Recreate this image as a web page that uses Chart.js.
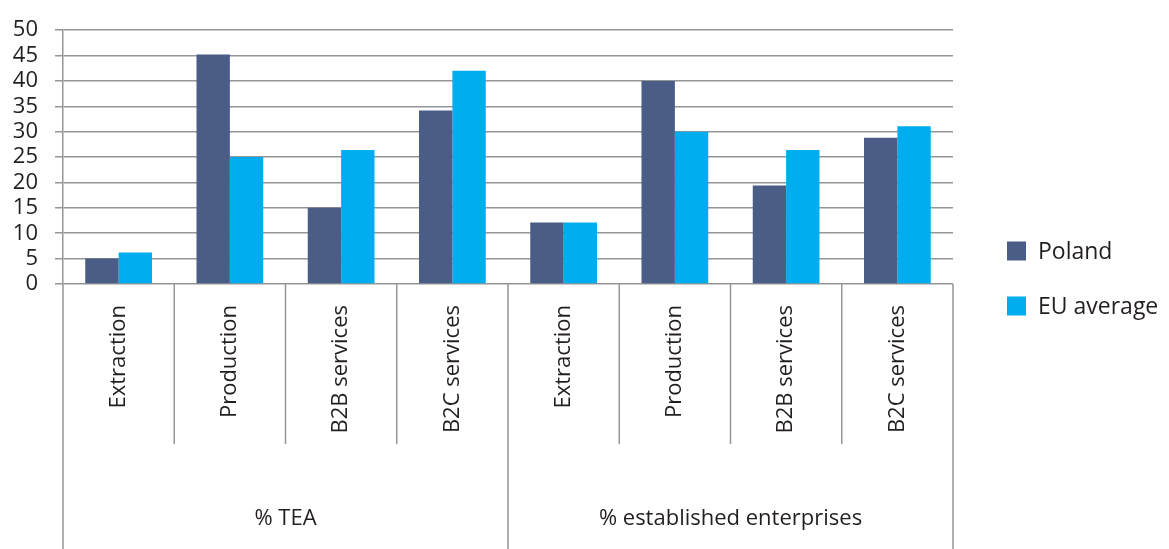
<!DOCTYPE html>
<html>
  <head>
    <script src="https://cdn.jsdelivr.net/npm/chart.js@4.4.1/dist/chart.umd.min.js"></script>
    <style>
      body { margin: 0; background: #fff; }
    </style>
  </head>
  <body>
    <canvas id="sectors" width="1169" height="549"></canvas>

    <script>
      var categories = ['Extraction', 'Production', 'B2B services', 'B2C services',
                        'Extraction', 'Production', 'B2B services', 'B2C services'];
      var groups = ['% TEA', '% established enterprises'];
      var groupSize = 4;
      var poland = [5.0, 45.2, 15.0, 34.2, 12.1, 40.0, 19.4, 28.8];
      var euAverage = [6.2, 25.0, 26.4, 42.0, 12.1, 30.0, 26.4, 31.1];
      var yMax = 50;
      var yStep = 5;

      var lineGrey = '#939598';
      var textDark = '#231f20';
      var font = "'Open Sans', sans-serif";

      // divider lines under the x axis plus the group captions
      var groupAxis = {
        id: 'groupAxis',
        afterDraw: function (chart) {
          var ctx = chart.ctx;
          var x = chart.scales.x;
          var area = chart.chartArea;
          var bottom = chart.height;
          ctx.save();
          ctx.strokeStyle = lineGrey;
          ctx.lineWidth = 1.5;

          function vline(px, y1, y2) {
            ctx.beginPath();
            ctx.moveTo(px, y1);
            ctx.lineTo(px, y2);
            ctx.stroke();
          }

          vline(area.left, area.bottom, bottom);
          vline(area.right, area.bottom, bottom);
          for (var i = 0; i < categories.length - 1; i++) {
            var px = (x.getPixelForValue(i) + x.getPixelForValue(i + 1)) / 2;
            if ((i + 1) % groupSize === 0) {
              vline(px, area.bottom, bottom);
            } else {
              vline(px, area.bottom, area.bottom + 160);
            }
          }

          ctx.fillStyle = textDark;
          ctx.font = '22px ' + font;
          ctx.textAlign = 'center';
          ctx.textBaseline = 'middle';
          groups.forEach(function (g, gi) {
            var first = gi * groupSize;
            var last = first + groupSize - 1;
            var cx = (x.getPixelForValue(first) + x.getPixelForValue(last)) / 2;
            ctx.fillText(g, cx, 519);
          });

          // legend on the right
          ctx.font = '23px ' + font;
          ctx.textAlign = 'left';
          chart.data.datasets.forEach(function (ds, di) {
            var cy = 251 + di * 55;
            ctx.fillStyle = ds.backgroundColor;
            ctx.fillRect(1007, cy - 9.5, 19, 19);
            ctx.fillStyle = textDark;
            ctx.fillText(ds.label, 1038, cy + 1);
          });
          ctx.restore();
        }
      };

      new Chart(document.getElementById('sectors').getContext('2d'), {
        type: 'bar',
        data: {
          labels: categories,
          datasets: [
            { label: 'Poland', data: poland, backgroundColor: '#4a5d87' },
            { label: 'EU average', data: euAverage, backgroundColor: '#00adee' }
          ]
        },
        options: {
          responsive: false,
          animation: false,
          devicePixelRatio: 1,
          layout: { padding: { top: 24, right: 216, left: 0, bottom: 0 } },
          datasets: { bar: { categoryPercentage: 0.6, barPercentage: 1.0 } },
          plugins: { legend: { display: false }, tooltip: { enabled: false } },
          scales: {
            x: {
              grid: { display: false },
              border: { display: false },
              ticks: {
                autoSkip: false,
                minRotation: 90,
                maxRotation: 90,
                padding: 13,
                color: textDark,
                font: { family: font, size: 22 }
              },
              afterFit: function (scale) { scale.height = 265; }
            },
            y: {
              min: 0,
              max: yMax,
              ticks: {
                stepSize: yStep,
                autoSkip: false,
                padding: 17,
                color: textDark,
                font: { family: font, size: 22 }
              },
              grid: { color: lineGrey, lineWidth: 1.5, tickLength: 8 },
              border: { display: true, color: lineGrey, width: 1.5 },
              afterFit: function (scale) { scale.width = 63; }
            }
          }
        },
        plugins: [groupAxis]
      });
    </script>
  </body>
</html>
